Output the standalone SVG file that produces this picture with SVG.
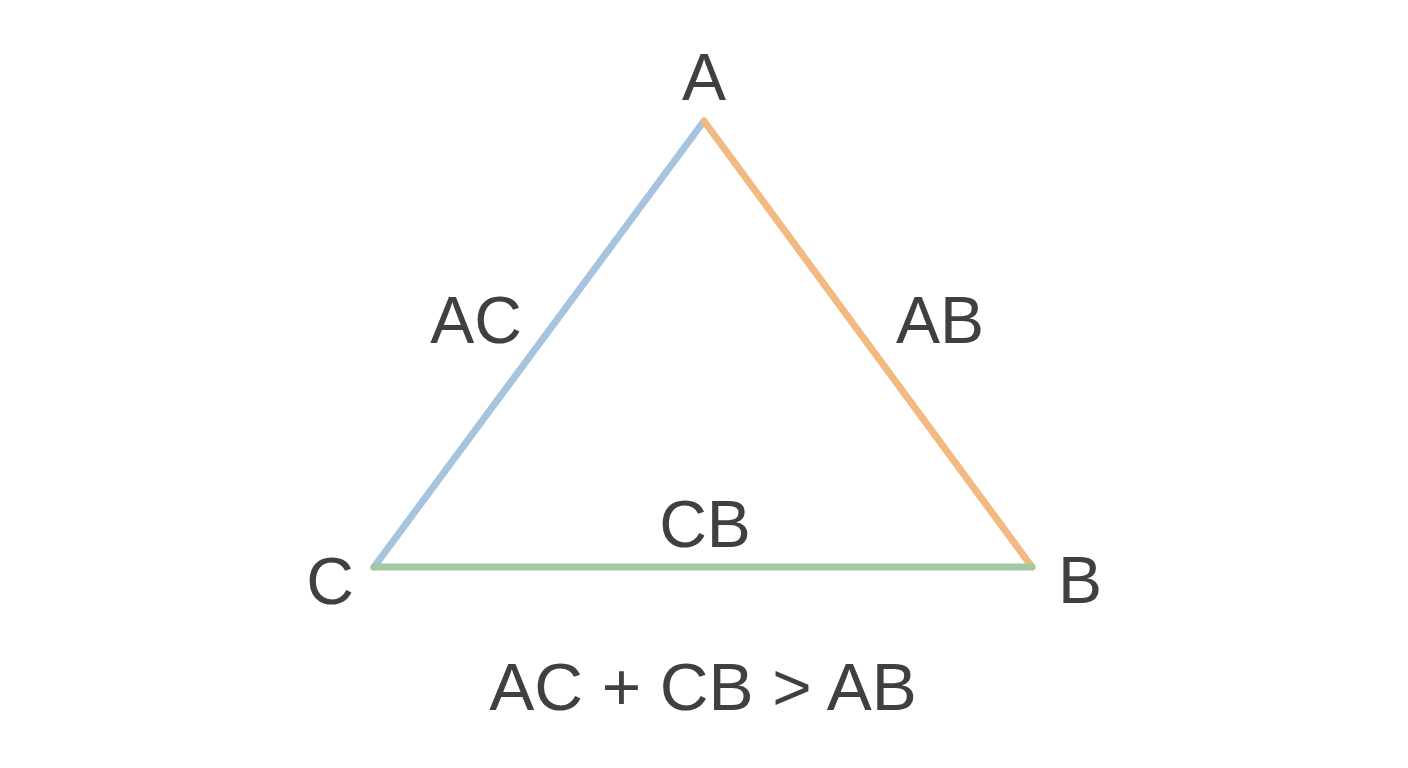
<svg xmlns="http://www.w3.org/2000/svg" width="1408" height="768" viewBox="0 0 1408 768">
<style>
text{font-family:"Liberation Sans",Arial,sans-serif;font-size:66px;fill:#404040;text-anchor:middle}
.e{stroke-width:7;stroke-linecap:round;fill:none}
</style>
<rect width="1408" height="768" fill="#ffffff"/>
<g id="edges">
<line class="e" x1="374" y1="567" x2="704" y2="121" stroke="#a7c4df"/>
<line class="e" x1="704" y1="121" x2="1032" y2="567" stroke="#f2b981"/>
<line class="e" x1="374" y1="567" x2="1032" y2="567" stroke="#a4c8a2"/>
</g>
<g id="nodeA"><text x="704" y="100">A</text></g>
<g id="nodeB"><text x="1080" y="603">B</text></g>
<g id="nodeC"><text x="330" y="604">C</text></g>
<g id="labelAC"><text x="476" y="343">AC</text></g>
<g id="labelAB"><text x="940" y="343">AB</text></g>
<g id="labelCB"><text x="705" y="547">CB</text></g>
<g id="formula"><text x="703" y="710" style="font-size:67.5px">AC + CB &gt; AB</text></g>
</svg>
